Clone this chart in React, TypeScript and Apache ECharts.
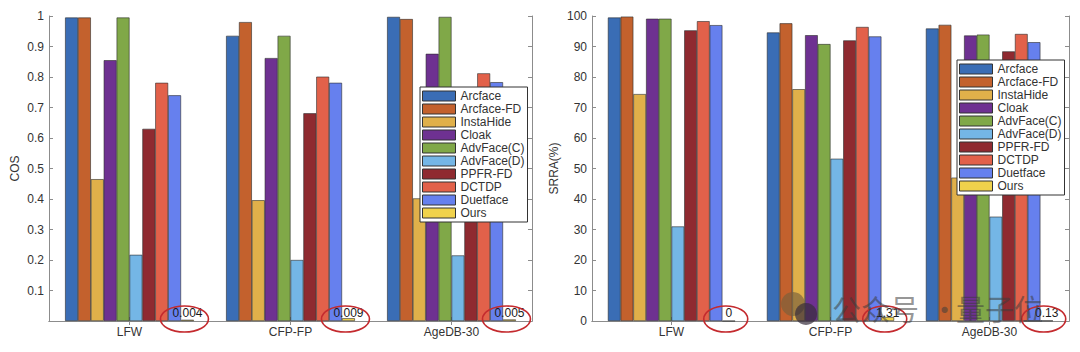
import React, { useEffect, useRef } from "react";
import * as echarts from "echarts";

const categories = ["LFW", "CFP-FP", "AgeDB-30"];
const methods = ["Arcface", "Arcface-FD", "InstaHide", "Cloak", "AdvFace(C)", "AdvFace(D)", "PPFR-FD", "DCTDP", "Duetface", "Ours"];
const colors = ["#3A6DB5", "#C3612D", "#E0B04A", "#6E3191", "#80A848", "#74B6E6", "#8F2A30", "#E2614A", "#6680EE", "#F0D24C"];

// COS values, one array per method: [LFW, CFP-FP, AgeDB-30]
const cosArcface = [0.995, 0.935, 0.997];
const cosArcfaceFD = [0.995, 0.98, 0.99];
const cosInstaHide = [0.465, 0.396, 0.402];
const cosCloak = [0.855, 0.862, 0.876];
const cosAdvFaceC = [0.995, 0.935, 0.997];
const cosAdvFaceD = [0.217, 0.2, 0.215];
const cosPPFRFD = [0.63, 0.681, 0.66];
const cosDCTDP = [0.781, 0.801, 0.812];
const cosDuetface = [0.74, 0.781, 0.783];
const cosOurs = [0.004, 0.009, 0.005];
const cosOursLabels = ["0.004", "0.009", "0.005"];

// SRRA (%) values
const srraArcface = [99.5, 94.6, 95.9];
const srraArcfaceFD = [99.8, 97.6, 97.1];
const srraInstaHide = [74.4, 76.0, 47.0];
const srraCloak = [99.1, 93.7, 93.6];
const srraAdvFaceC = [99.1, 90.8, 93.9];
const srraAdvFaceD = [31.0, 53.2, 34.2];
const srraPPFRFD = [95.3, 92.0, 88.4];
const srraDCTDP = [98.3, 96.4, 94.1];
const srraDuetface = [97.0, 93.3, 91.4];
const srraOurs = [0, 1.31, 0.13];
const srraOursLabels = ["0", "1.31", "0.13"];

const cosSeries = [cosArcface, cosArcfaceFD, cosInstaHide, cosCloak, cosAdvFaceC, cosAdvFaceD, cosPPFRFD, cosDCTDP, cosDuetface, cosOurs];
const srraSeries = [srraArcface, srraArcfaceFD, srraInstaHide, srraCloak, srraAdvFaceC, srraAdvFaceD, srraPPFRFD, srraDCTDP, srraDuetface, srraOurs];

const FONT = "Liberation Sans, Arial, Helvetica, sans-serif";
const GAP = 0.2;
const AXIS_COLOR = "#8c8c8c";
const TEXT_COLOR = "#333";

function App() {
  const ref = useRef<HTMLDivElement>(null);
  useEffect(() => {
    if (!ref.current) return;
    const chart = echarts.init(ref.current, null, { renderer: "svg" });

    const makeX = (grid: number, top: boolean) => ({
      type: "category",
      gridIndex: grid,
      data: categories,
      position: top ? "top" : "bottom",
      boundaryGap: true,
      axisLine: { show: true, lineStyle: { color: AXIS_COLOR, width: 1 } },
      axisTick: { show: true, inside: true, alignWithLabel: true, length: 4, lineStyle: { color: AXIS_COLOR } },
      axisLabel: { show: !top, color: TEXT_COLOR, fontSize: 12, fontFamily: FONT, margin: 5 },
      splitLine: { show: false },
    });
    const makeY = (grid: number, right: boolean, max: number, interval: number, name: string, nameGap: number, hideZero: boolean) => ({
      type: "value",
      gridIndex: grid,
      min: 0,
      max,
      interval,
      position: right ? "right" : "left",
      name: right ? "" : name,
      nameLocation: "middle",
      nameGap,
      nameTextStyle: { color: TEXT_COLOR, fontSize: 12, fontFamily: FONT },
      axisLine: { show: true, lineStyle: { color: AXIS_COLOR, width: 1 } },
      axisTick: { show: true, inside: true, length: 4, lineStyle: { color: AXIS_COLOR } },
      axisLabel: {
        show: !right,
        color: TEXT_COLOR,
        fontSize: 12,
        fontFamily: FONT,
        margin: 5,
        formatter: (v: number) => (hideZero && v === 0 ? "" : String(Math.round(v * 100) / 100)),
      },
      splitLine: { show: false },
    });

    const barSeries = (data: number[][], xi: number, yi: number) =>
      data.map((vals, i) => ({
        type: "bar",
        name: methods[i],
        xAxisIndex: xi,
        yAxisIndex: yi,
        data: vals,
        barGap: "0%",
        barCategoryGap: GAP * 100 + "%",
        itemStyle: { color: colors[i], borderColor: "#2b2b2b", borderWidth: 0.6 },
        emphasis: { disabled: true },
      }));

    const annot = (labels: string[], xi: number, yi: number, rx: number) => ({
      type: "custom",
      xAxisIndex: xi,
      yAxisIndex: yi,
      z: 10,
      silent: true,
      data: labels.map((_, i) => [i, 0]),
      renderItem: (params: any, api: any) => {
        const c = api.coord([api.value(0), 0]);
        const band = api.size([1, 0])[0];
        const group = band * (1 - GAP);
        const barW = group / methods.length;
        const cx = c[0] + group / 2 - barW / 2;
        return {
          type: "group",
          children: [
            {
              type: "text",
              x: cx,
              y: c[1] - 8,
              style: { text: labels[params.dataIndex], fill: "#1a1a1a", font: "12px " + FONT, align: "center", verticalAlign: "middle" },
            },
            {
              type: "ellipse",
              shape: { cx: cx - 3, cy: c[1] - 2, rx, ry: 13 },
              style: { fill: "none", stroke: "#C42A2E", lineWidth: 1.6 },
            },
          ],
        };
      },
    });

    const legendBase = {
      orient: "vertical",
      data: methods,
      itemWidth: 33,
      itemHeight: 10,
      itemGap: 1,
      padding: [3, 3, 3, 2],
      borderColor: "#333",
      borderWidth: 1,
      backgroundColor: "#fff",
      selectedMode: false,
      icon: "rect",
      itemStyle: { borderColor: "#333", borderWidth: 1 },
      textStyle: { color: TEXT_COLOR, fontSize: 12, fontFamily: FONT, lineHeight: 12 },
    };

    const wmStyle = { fill: "rgba(60,60,60,0.55)", fontSize: 29, fontFamily: "Noto Sans CJK SC", fontWeight: 400, verticalAlign: "middle" };

    chart.setOption({
      animation: false,
      backgroundColor: "#fff",
      grid: [
        { left: 49, top: 16, width: 483, height: 305, show: false },
        { left: 592, top: 16, width: 477, height: 305, show: false },
      ],
      xAxis: [makeX(0, false), makeX(0, true), makeX(1, false), makeX(1, true)],
      yAxis: [
        makeY(0, false, 1, 0.1, "COS", 28, true),
        makeY(0, true, 1, 0.1, "", 0, true),
        makeY(1, false, 100, 10, "SRRA(%)", 32, false),
        makeY(1, true, 100, 10, "", 0, false),
      ],
      legend: [
        { ...legendBase, left: 420, top: 87 },
        { ...legendBase, left: 957, top: 60 },
      ],
      series: [
        ...barSeries(cosSeries, 0, 0),
        ...barSeries(srraSeries, 2, 2),
        annot(cosOursLabels, 0, 0, 24),
        annot(srraOursLabels, 2, 2, 22),
      ],
      graphic: [
        { type: "circle", z: 100, silent: true, shape: { cx: 793, cy: 304, r: 12 }, style: { fill: "rgba(120,95,60,0.65)" } },
        { type: "circle", z: 101, silent: true, shape: { cx: 806, cy: 314, r: 11 }, style: { fill: "rgba(55,45,60,0.7)" } },
        { type: "text", z: 100, silent: true, x: 832, y: 308, style: { ...wmStyle, text: "公众号" } },
        { type: "text", z: 100, silent: true, x: 930, y: 308, style: { ...wmStyle, text: "·" } },
        { type: "text", z: 100, silent: true, x: 956, y: 308, style: { ...wmStyle, text: "量子位" } },
      ],
    });
    return () => chart.dispose();
  }, []);
  return <div ref={ref} style={{ position: "fixed", left: 0, top: 0, width: 1080, height: 352, background: "#fff" }} />;
}

export default App;
